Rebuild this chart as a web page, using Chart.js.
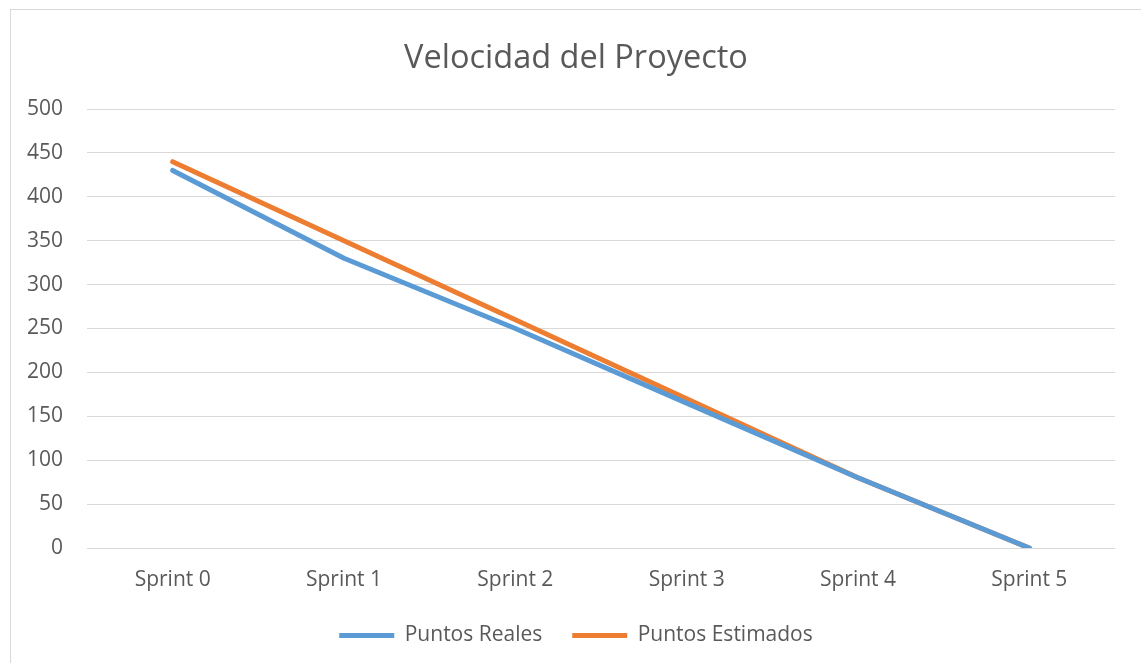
<!DOCTYPE html>
<html>
<head>
<meta charset="utf-8">
<script src="https://cdn.jsdelivr.net/npm/chart.js"></script>
<style>
  html, body { margin: 0; padding: 0; background: #fff; }
  #wrap { position: absolute; left: 0; top: 0; width: 1141px; height: 663px; }
</style>
</head>
<body>
<div id="wrap"><canvas id="chart"></canvas></div>
<script>
// datos del gráfico
const sprints = ["Sprint 0", "Sprint 1", "Sprint 2", "Sprint 3", "Sprint 4", "Sprint 5"];
const puntosReales = [430, 330, 250, 165, 80, 0];
const puntosEstimados = [440, 350, 260, 170, 80, 0];
const yTicks = [0, 50, 100, 150, 200, 250, 300, 350, 400, 450, 500];

const textColor = "#595959";
const gridColor = "#d9d9d9";
const baseFont = "'Open Sans', 'Noto Sans', sans-serif";

// marco del gráfico (solo se ven los bordes izquierdo y superior)
const framePlugin = {
  id: "frame",
  beforeDraw(chart) {
    const ctx = chart.ctx;
    ctx.save();
    ctx.strokeStyle = gridColor;
    ctx.lineWidth = 1;
    ctx.strokeRect(10.5, 9.5, 1200, 700);
    ctx.restore();
  }
};

// altura fija para la leyenda
const legendHeight = {
  id: "legendHeight",
  beforeInit(chart) {
    const origFit = chart.legend.fit;
    chart.legend.fit = function () {
      origFit.bind(chart.legend)();
      this.height = 68;
    };
  }
};

const ctx = document.getElementById("chart").getContext("2d");
new Chart(ctx, {
  type: "line",
  data: {
    labels: sprints,
    datasets: [
      {
        label: "Puntos Reales",
        data: puntosReales,
        borderColor: "#5b9bd5",
        backgroundColor: "#5b9bd5",
        borderWidth: 5,
        borderCapStyle: "round",
        borderJoinStyle: "round",
        pointRadius: 0,
        pointHoverRadius: 0,
        tension: 0
      },
      {
        label: "Puntos Estimados",
        data: puntosEstimados,
        borderColor: "#ed7d31",
        backgroundColor: "#ed7d31",
        borderWidth: 5,
        borderCapStyle: "round",
        borderJoinStyle: "round",
        pointRadius: 0,
        pointHoverRadius: 0,
        tension: 0
      }
    ]
  },
  options: {
    responsive: true,
    maintainAspectRatio: false,
    animation: false,
    layout: { padding: { left: 37, right: 26, top: 0, bottom: 0 } },
    plugins: {
      title: {
        display: true,
        text: "Velocidad del Proyecto",
        color: textColor,
        font: { family: baseFont, size: 32.5, weight: "normal" },
        padding: { top: 39, bottom: 31 }
      },
      legend: {
        position: "bottom",
        labels: {
          color: textColor,
          font: { family: baseFont, size: 21 },
          usePointStyle: true,
          pointStyle: "line",
          pointStyleWidth: 55,
          padding: 30
        }
      },
      tooltip: { enabled: false }
    },
    scales: {
      x: {
        offset: true,
        grid: { display: false, drawTicks: false },
        border: { display: false },
        ticks: {
          color: textColor,
          font: { family: baseFont, size: 21 },
          padding: 19,
          maxRotation: 0
        },
        afterFit(scale) { scale.height = 47; }
      },
      y: {
        min: 0,
        max: 500,
        afterBuildTicks(scale) { scale.ticks = yTicks.map(v => ({ value: v })); },
        grid: { color: gridColor, lineWidth: 1, drawTicks: false },
        border: { display: false },
        ticks: {
          color: textColor,
          font: { family: baseFont, size: 21 },
          padding: 24
        },
        afterFit(scale) {
          scale.width = 50;
          // las etiquetas salen del área del eje, no recortarlas
          scale._computeLabelArea = () => undefined;
        }
      }
    }
  },
  plugins: [framePlugin, legendHeight]
});
</script>
</body>
</html>
